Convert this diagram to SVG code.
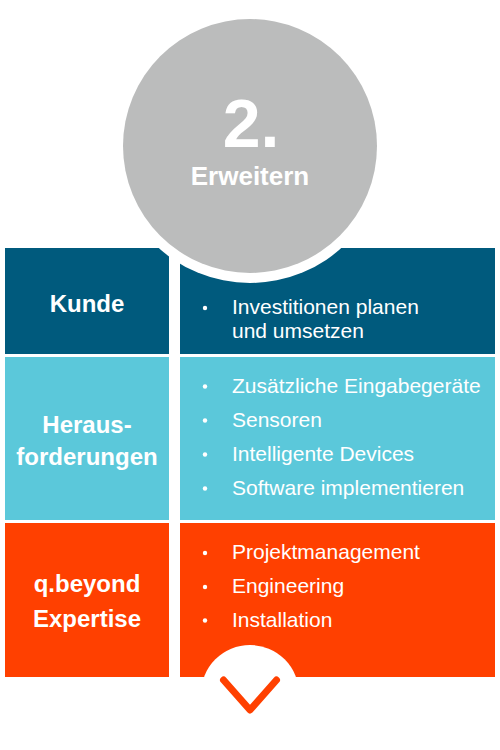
<svg xmlns="http://www.w3.org/2000/svg" width="500" height="750" viewBox="0 0 500 750">
<style>
.h{font-family:"Liberation Sans",Arial,sans-serif;font-weight:bold;fill:#fff;text-anchor:middle}
.t{font-family:"Liberation Sans",Arial,sans-serif;font-size:21px;fill:#fff}
.b{fill:#fff}
</style>
<rect width="500" height="750" fill="#fff"/>
<g id="row-kunde">
<rect x="5" y="248" width="164" height="106" fill="#005A7D"/>
<rect x="180" y="248" width="315" height="106" fill="#005A7D"/>
</g>
<g id="row-heraus">
<rect x="5" y="357" width="164" height="163" fill="#5BC8DA"/>
<rect x="180" y="357" width="315" height="163" fill="#5BC8DA"/>
</g>
<g id="row-expertise">
<rect x="5" y="523" width="164" height="154" fill="#FF4000"/>
<rect x="180" y="523" width="315" height="154" fill="#FF4000"/>
</g>
<g id="circle-header">
<circle cx="250" cy="146" r="137" fill="#fff"/>
<circle cx="250" cy="146" r="127" fill="#BBBCBC"/>
<text class="h" x="251" y="147" font-size="68">2.</text>
<text class="h" x="250" y="185" font-size="26">Erweitern</text>
</g>
<g id="kunde-text">
<text class="h" x="87" y="312" font-size="24">Kunde</text>
<circle class="b" cx="205" cy="308" r="2.2"/>
<text class="t" x="232" y="314">Investitionen planen</text>
<text class="t" x="232" y="338">und umsetzen</text>
</g>
<g id="heraus-text">
<text class="h" x="87" y="433" font-size="24">Heraus-</text>
<text class="h" x="87" y="465" font-size="24">forderungen</text>
<circle class="b" cx="205" cy="386.5" r="2.2"/>
<text class="t" x="232" y="393">Zusätzliche Eingabegeräte</text>
<circle class="b" cx="205" cy="420.5" r="2.2"/>
<text class="t" x="232" y="427">Sensoren</text>
<circle class="b" cx="205" cy="454.5" r="2.2"/>
<text class="t" x="232" y="461">Intelligente Devices</text>
<circle class="b" cx="205" cy="488.5" r="2.2"/>
<text class="t" x="232" y="495">Software implementieren</text>
</g>
<g id="expertise-text">
<text class="h" x="87" y="592" font-size="24">q.beyond</text>
<text class="h" x="87" y="627" font-size="24">Expertise</text>
<circle class="b" cx="205" cy="553" r="2.2"/>
<text class="t" x="232" y="559">Projektmanagement</text>
<circle class="b" cx="205" cy="587" r="2.2"/>
<text class="t" x="232" y="593">Engineering</text>
<circle class="b" cx="205" cy="620.5" r="2.2"/>
<text class="t" x="232" y="627">Installation</text>
</g>
<g id="connectors">
<circle cx="250" cy="694" r="49" fill="#fff"/>
<polyline points="223.5,680 250,710 276.5,680" fill="none" stroke="#FF4000" stroke-width="7" stroke-linecap="round" stroke-linejoin="round"/>
</g>
</svg>
